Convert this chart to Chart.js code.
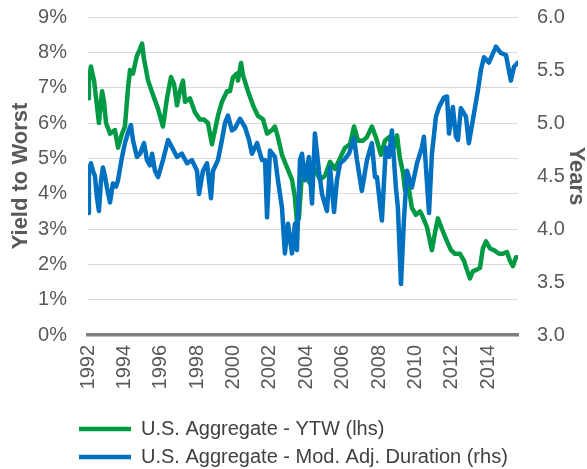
<!DOCTYPE html>
<html>
<head>
<meta charset="utf-8">
<script src="https://cdn.jsdelivr.net/npm/chart.js@4/dist/chart.umd.min.js"></script>
<style>
  html, body { margin: 0; padding: 0; background: #fff; }
  #wrap { width: 587px; height: 469px; position: relative; }
</style>
</head>
<body>
<div id="wrap"><canvas id="chart"></canvas></div>
<script>
// x axis labels (every other year)
const yearTicks = [1992, 1994, 1996, 1998, 2000, 2002, 2004, 2006, 2008, 2010, 2012, 2014];

// U.S. Aggregate yield to worst, % (left axis)
const ytwYears = [
  1992.00, 1992.05, 1992.16, 1992.33, 1992.49, 1992.60, 1992.77, 1992.88, 1992.99, 1993.21,
  1993.48, 1993.65, 1993.87, 1994.03, 1994.20, 1994.31, 1994.47, 1994.69, 1994.86, 1994.97,
  1995.08, 1995.30, 1995.57, 1995.85, 1996.12, 1996.34, 1996.56, 1996.73, 1996.89, 1997.05,
  1997.22, 1997.33, 1997.60, 1997.88, 1998.15, 1998.37, 1998.59, 1998.81, 1998.98, 1999.14,
  1999.36, 1999.64, 1999.80, 1999.97, 2000.19, 2000.24, 2000.41, 2000.52, 2000.79, 2001.07,
  2001.34, 2001.62, 2001.84, 2002.11, 2002.27, 2002.44, 2002.66, 2002.93, 2003.21, 2003.37,
  2003.48, 2003.59, 2003.76, 2003.92, 2004.20, 2004.47, 2004.75, 2005.02, 2005.30, 2005.57,
  2005.85, 2006.12, 2006.40, 2006.62, 2006.84, 2007.11, 2007.33, 2007.60, 2007.82, 2008.10,
  2008.32, 2008.54, 2008.81, 2008.98, 2009.14, 2009.31, 2009.42, 2009.58, 2009.80, 2010.02,
  2010.24, 2010.35, 2010.63, 2010.90, 2011.07, 2011.23, 2011.45, 2011.73, 2011.95, 2012.16,
  2012.44, 2012.66, 2012.82, 2012.99, 2013.15, 2013.37, 2013.54, 2013.70, 2013.87, 2014.09,
  2014.31, 2014.58, 2014.80, 2015.02, 2015.19, 2015.35, 2015.52, 2015.63
];
const ytwValues = [
  6.7, 7.2, 7.6, 7.2, 6.5, 6.0, 6.9, 6.6, 6.0, 5.7,
  5.8, 5.3, 5.7, 5.9, 7.0, 7.5, 7.4, 7.9, 8.1, 8.25,
  7.8, 7.2, 6.8, 6.4, 5.9, 6.7, 7.3, 7.1, 6.5, 6.9,
  7.2, 6.6, 6.7, 6.3, 6.1, 6.1, 6.0, 5.4, 5.8, 6.2,
  6.6, 6.9, 6.9, 7.3, 7.4, 7.2, 7.7, 7.35, 6.9, 6.5,
  6.2, 6.1, 5.7, 5.8, 5.9, 5.6, 5.1, 4.75, 4.4, 3.9,
  3.2, 3.3, 4.6, 4.5, 4.3, 4.7, 4.4, 4.5, 4.9, 4.7,
  5.0, 5.3, 5.4, 5.9, 5.5, 5.5, 5.6, 5.9, 5.6, 5.1,
  5.5, 5.6, 5.3, 5.65, 5.0, 4.6, 4.1, 4.3, 3.6, 3.4,
  3.5, 3.4, 3.05, 2.4, 2.9, 3.3, 3.0, 2.65, 2.4, 2.3,
  2.3, 2.1, 1.85, 1.6, 1.8, 1.85, 1.9, 2.45, 2.65, 2.45,
  2.4, 2.3, 2.3, 2.35, 2.1, 1.95, 2.2, 2.2
];

// U.S. Aggregate modified adjusted duration, years (right axis)
const durYears = [
  1992.00, 1992.05, 1992.16, 1992.27, 1992.38, 1992.49, 1992.60, 1992.71, 1992.82, 1992.93,
  1993.04, 1993.21, 1993.37, 1993.54, 1993.65, 1993.87, 1994.03, 1994.20, 1994.36, 1994.47,
  1994.69, 1994.86, 1995.08, 1995.24, 1995.41, 1995.52, 1995.68, 1995.85, 1996.12, 1996.40,
  1996.62, 1996.89, 1997.16, 1997.44, 1997.71, 1997.99, 1998.10, 1998.32, 1998.54, 1998.76,
  1998.87, 1999.14, 1999.36, 1999.53, 1999.69, 1999.91, 2000.08, 2000.35, 2000.63, 2000.85,
  2001.01, 2001.29, 2001.56, 2001.73, 2001.84, 2002.00, 2002.27, 2002.44, 2002.66, 2002.82,
  2002.99, 2003.21, 2003.37, 2003.48, 2003.65, 2003.76, 2003.92, 2004.14, 2004.31, 2004.47,
  2004.69, 2004.86, 2005.13, 2005.30, 2005.52, 2005.68, 2005.85, 2006.07, 2006.34, 2006.62,
  2006.78, 2007.05, 2007.33, 2007.60, 2007.77, 2007.88, 2008.15, 2008.37, 2008.54, 2008.70,
  2008.92, 2009.03, 2009.20, 2009.36, 2009.53, 2009.80, 2010.08, 2010.35, 2010.46, 2010.74,
  2010.90, 2011.12, 2011.29, 2011.56, 2011.73, 2011.84, 2012.05, 2012.22, 2012.33, 2012.49,
  2012.77, 2012.93, 2013.15, 2013.43, 2013.59, 2013.76, 2014.03, 2014.42, 2014.69, 2014.97,
  2015.24, 2015.41, 2015.63
];
const durValues = [
  4.15, 4.55, 4.62, 4.55, 4.5, 4.3, 4.17, 4.45, 4.58, 4.5,
  4.39, 4.25, 4.43, 4.4, 4.46, 4.68, 4.81, 4.91, 4.98, 4.84,
  4.68, 4.71, 4.81, 4.65, 4.6, 4.71, 4.55, 4.49, 4.65, 4.84,
  4.77, 4.68, 4.71, 4.62, 4.65, 4.55, 4.33, 4.55, 4.62, 4.29,
  4.55, 4.65, 4.84, 5.0, 5.07, 4.93, 4.95, 5.04, 4.96, 4.84,
  4.71, 4.81, 4.65, 4.65, 4.11, 4.74, 4.68, 4.46, 4.2, 3.77,
  4.05, 3.77, 4.05, 3.8, 4.65, 4.71, 4.46, 4.68, 4.24, 4.9,
  4.55, 4.33, 4.17, 4.58, 4.16, 4.46, 4.62, 4.65, 4.71, 4.86,
  4.65, 4.36, 4.65, 4.81, 4.49, 4.49, 4.08, 4.77, 4.68, 4.93,
  4.39, 4.2, 3.48, 4.08, 4.55, 4.39, 4.62, 4.77, 4.87, 4.15,
  4.71, 5.06, 5.15, 5.24, 5.25, 4.9, 5.15, 4.87, 4.84, 5.14,
  5.06, 4.81, 5.03, 5.31, 5.5, 5.62, 5.57, 5.72, 5.66, 5.64,
  5.4, 5.53, 5.57
];

const seriesNames = ['U.S. Aggregate - YTW (lhs)', 'U.S. Aggregate - Mod. Adj. Duration (rhs)'];
const green = '#009a44';
const blue = '#0070c0';
const grey = '#595959';

const toPoints = (xs, ys) => xs.map((x, i) => ({ x: x, y: ys[i] }));

// Chart.js doubles the tick padding when it sizes an axis, so pin the sizes here
const fixWidth = (w) => (axis) => {
    axis.width = w;
    axis.paddingTop = 0;
    axis.paddingBottom = 0;
};

// legend rows start under the axis labels and sit a bit lower, like the original
const legendShift = {
    id: 'legendShift',
    afterLayout(chart) {
        const lg = chart.legend;
        if (lg) {
            lg.left = 71;
            lg.top += 8;
            lg.bottom += 8;
        }
    }
};

new Chart(document.getElementById('chart'), {
    type: 'line',
    data: {
        datasets: [
            {
                label: seriesNames[0],
                data: toPoints(ytwYears, ytwValues),
                borderColor: green,
                backgroundColor: green,
                borderWidth: 4.5,
                pointRadius: 0,
                yAxisID: 'y',
                order: 1
            },
            {
                label: seriesNames[1],
                data: toPoints(durYears, durValues),
                borderColor: blue,
                backgroundColor: blue,
                borderWidth: 4.5,
                pointRadius: 0,
                yAxisID: 'y2',
                order: 0
            }
        ]
    },
    options: {
        responsive: true,
        maintainAspectRatio: false,
        animation: false,
        layout: { padding: { left: 10, right: 0, top: 17, bottom: 0 } },
        elements: { line: { tension: 0, borderJoinStyle: 'round', borderCapStyle: 'round' } },
        plugins: {
            tooltip: { enabled: false },
            legend: {
                position: 'bottom',
                align: 'start',
                labels: {
                    usePointStyle: true,
                    pointStyle: 'line',
                    pointStyleWidth: 52,
                    boxHeight: 20,
                    padding: 8,
                    color: '#404040',
                    font: { family: 'Liberation Sans', size: 20 },
                    sort: (a, b) => a.datasetIndex - b.datasetIndex
                }
            }
        },
        scales: {
            x: {
                type: 'linear',
                min: 1992,
                max: 2015.63,
                afterBuildTicks: (axis) => {
                    axis.ticks = yearTicks.map(v => ({ value: v }));
                },
                afterFit: (axis) => {
                    axis.height = 68;
                    axis.paddingLeft = 0;
                    axis.paddingRight = 0;
                },
                grid: { display: false, drawTicks: false },
                border: { display: true, color: '#808080', width: 3.5 },
                ticks: {
                    autoSkip: false,
                    minRotation: 90,
                    maxRotation: 90,
                    padding: 10,
                    color: grey,
                    font: { family: 'Liberation Sans', size: 20 },
                    callback: (v) => String(v)
                }
            },
            y: {
                position: 'left',
                min: 0,
                max: 9,
                afterFit: fixWidth(78),
                grid: { color: '#d9d9d9', lineWidth: 1, drawTicks: false },
                border: { display: false },
                ticks: {
                    stepSize: 1,
                    padding: 21,
                    color: grey,
                    font: { family: 'Liberation Sans', size: 20 },
                    callback: (v) => v + '%'
                },
                title: {
                    display: true,
                    text: 'Yield to Worst',
                    color: grey,
                    padding: { top: 0, bottom: 6 },
                    font: { family: 'Liberation Sans', size: 22, weight: 'bold', lineHeight: 1 }
                }
            },
            y2: {
                position: 'right',
                min: 3,
                max: 6,
                afterFit: fixWidth(69),
                grid: { display: false, drawTicks: false },
                border: { display: false },
                ticks: {
                    stepSize: 0.5,
                    padding: 19,
                    color: grey,
                    font: { family: 'Liberation Sans', size: 20 },
                    callback: (v) => v.toFixed(1)
                },
                title: {
                    display: true,
                    text: 'Years',
                    color: grey,
                    padding: { top: 0, bottom: 0 },
                    font: { family: 'Liberation Sans', size: 22, weight: 'bold', lineHeight: 1 }
                }
            }
        }
    },
    plugins: [legendShift]
});
</script>
</body>
</html>
